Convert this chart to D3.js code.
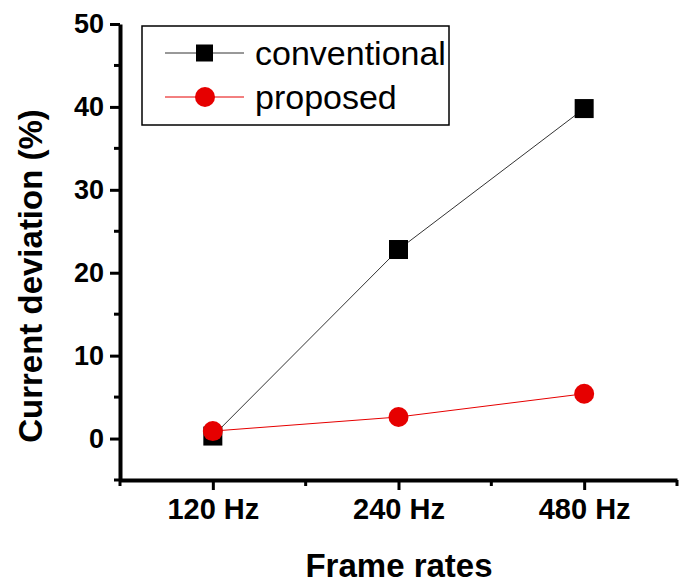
<!DOCTYPE html>
<html>
<head>
<meta charset="utf-8">
<script src="https://cdn.jsdelivr.net/npm/d3@7"></script>
<style>
	body { margin: 0; background: #fff; }
	svg { display: block; font-family: Arial, "Liberation Sans", sans-serif; }
</style>
</head>
<body>
<svg id="chart" width="688" height="583"></svg>
<script>
var categories   = ["120 Hz", "240 Hz", "480 Hz"];
var conventional = [0.3, 22.8, 39.8];
var proposed     = [0.9, 2.6, 5.4];
var yTicks       = [0, 10, 20, 30, 40, 50];
var yMinorTicks  = [-5, 5, 15, 25, 35, 45];
var seriesNames  = ["conventional", "proposed"];

var svg = d3.select("#chart");

var x_scale = d3.scaleLinear()
	.domain([0.5, categories.length + 0.5])
	.range([120, 677]);
var y_scale = d3.scaleLinear()
	.domain([-5, 50])
	.range([480, 24]);

var red = "#e60000";

// x axis
var xAxis = svg.append("g").attr("transform", "translate(0,480)");
xAxis.call(d3.axisBottom(x_scale)
	.tickValues(categories.map(function(c, i){ return i + 1; }))
	.tickFormat(function(d){ return categories[d - 1]; })
	.tickSize(10).tickSizeOuter(0).tickPadding(8));
xAxis.append("g").selectAll("line")
	.data(d3.range(0.5, categories.length + 1, 1))
	.enter().append("line")
		.attr("x1", function(d){ return x_scale(d); })
		.attr("x2", function(d){ return x_scale(d); })
		.attr("y1", 0).attr("y2", 6)
		.attr("stroke", "black").attr("stroke-width", 3);
xAxis.select(".domain").attr("stroke", "black").attr("stroke-width", 4);
xAxis.selectAll(".tick line").attr("stroke", "black").attr("stroke-width", 3);
xAxis.selectAll(".tick text")
	.attr("font-size", 29).attr("font-weight", "bold")
	.attr("font-family", "Arial, 'Liberation Sans', sans-serif")
	.attr("fill", "black");

// y axis
var yAxis = svg.append("g").attr("transform", "translate(120,0)");
yAxis.call(d3.axisLeft(y_scale)
	.tickValues(yTicks)
	.tickSize(10).tickSizeOuter(0).tickPadding(6));
yAxis.append("g").selectAll("line")
	.data(yMinorTicks)
	.enter().append("line")
		.attr("y1", function(d){ return y_scale(d); })
		.attr("y2", function(d){ return y_scale(d); })
		.attr("x1", 0).attr("x2", -6)
		.attr("stroke", "black").attr("stroke-width", 3);
yAxis.select(".domain").attr("stroke", "black").attr("stroke-width", 4);
yAxis.selectAll(".tick line").attr("stroke", "black").attr("stroke-width", 3);
yAxis.selectAll(".tick text")
	.attr("font-size", 27).attr("font-weight", "bold")
	.attr("font-family", "Arial, 'Liberation Sans', sans-serif")
	.attr("fill", "black");

// axis titles
svg.append("text")
	.attr("x", 399).attr("y", 577)
	.attr("text-anchor", "middle")
	.attr("font-size", 33).attr("font-weight", "bold")
	.text("Frame rates");
svg.append("text")
	.attr("transform", "translate(42,276) rotate(-90)")
	.attr("text-anchor", "middle")
	.attr("font-size", 33).attr("font-weight", "bold")
	.text("Current deviation (%)");

// lines
var line = d3.line()
	.x(function(d, i){ return x_scale(i + 1); })
	.y(function(d){ return y_scale(d); });

svg.append("path").attr("d", line(conventional))
	.attr("fill", "none").attr("stroke", "#333").attr("stroke-width", 1);
svg.append("path").attr("d", line(proposed))
	.attr("fill", "none").attr("stroke", red).attr("stroke-width", 1);

// markers
svg.append("g").selectAll("rect")
	.data(conventional)
	.enter().append("rect")
		.attr("x", function(d, i){ return x_scale(i + 1) - 9.5; })
		.attr("y", function(d){ return y_scale(d) - 9.5; })
		.attr("width", 19).attr("height", 19)
		.attr("fill", "black");
svg.append("g").selectAll("circle")
	.data(proposed)
	.enter().append("circle")
		.attr("cx", function(d, i){ return x_scale(i + 1); })
		.attr("cy", function(d){ return y_scale(d); })
		.attr("r", 10)
		.attr("fill", red);

// legend
var legend = svg.append("g");
legend.append("rect")
	.attr("x", 142).attr("y", 26).attr("width", 307).attr("height", 99)
	.attr("fill", "white").attr("stroke", "black").attr("stroke-width", 1.5);
var legendY = [53, 97];
seriesNames.forEach(function(name, i){
	var g = legend.append("g").attr("transform", "translate(0," + legendY[i] + ")");
	g.append("line").attr("x1", 165).attr("x2", 244).attr("y1", 0).attr("y2", 0)
		.attr("stroke", i === 0 ? "#333" : red).attr("stroke-width", 1);
	if(i === 0){
		g.append("rect").attr("x", 196).attr("y", -8.5).attr("width", 17).attr("height", 17).attr("fill", "black");
	} else {
		g.append("circle").attr("cx", 205).attr("cy", 0).attr("r", 10).attr("fill", red);
	}
	g.append("text").attr("x", 255).attr("y", 12)
		.attr("font-size", 34)
		.text(name);
});
</script>
</body>
</html>
